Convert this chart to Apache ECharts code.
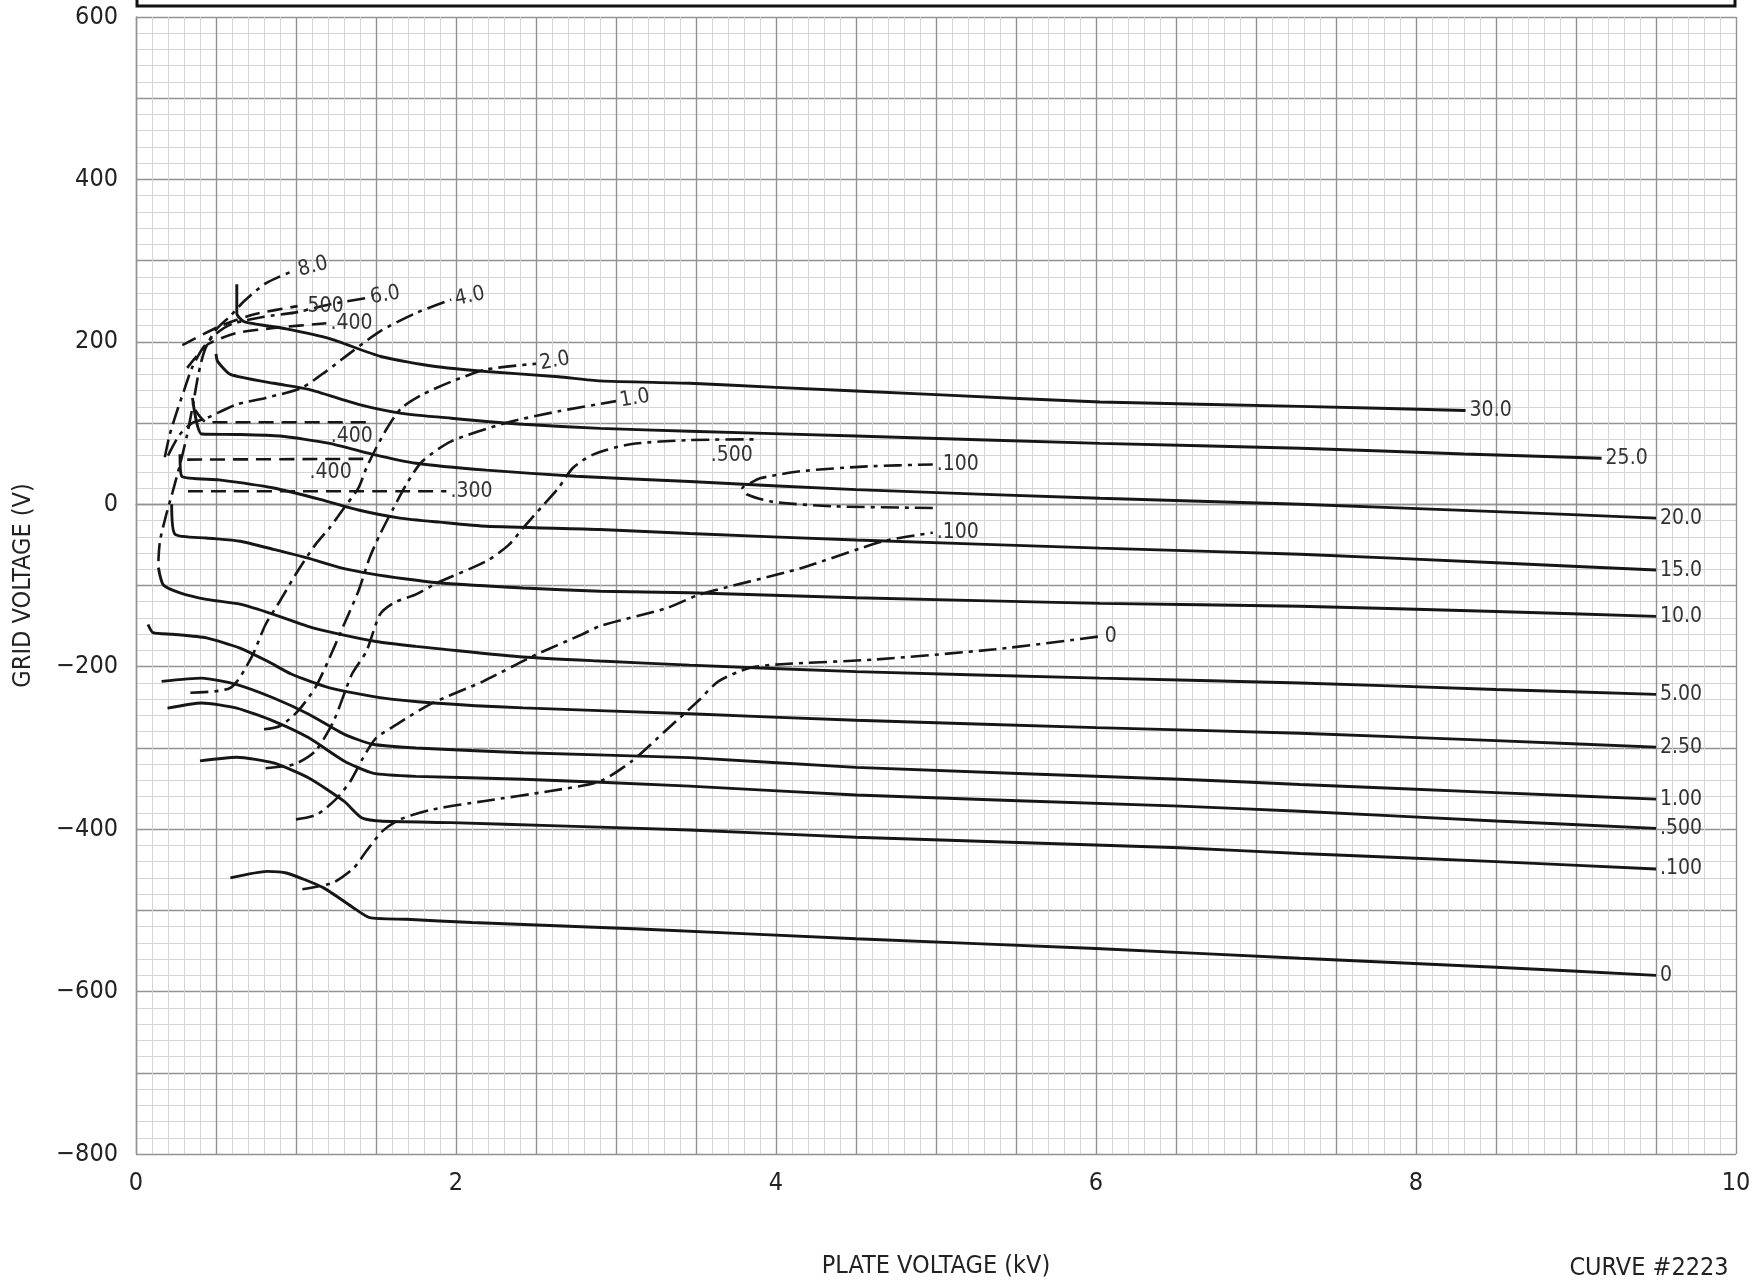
<!DOCTYPE html>
<html><head><meta charset="utf-8">
<script src="https://cdn.jsdelivr.net/npm/echarts@6/dist/echarts.min.js"></script>
<style>html,body{margin:0;padding:0;background:#fff}#c{width:1753px;height:1280px}</style>
</head><body><div id="c"></div>
<script>
const FONT = "'DejaVu Sans Condensed','Liberation Sans Narrow','DejaVu Sans',sans-serif";
const xTickLabels = [0, 2, 4, 6, 8, 10];
const yTickLabels = [600, 400, 200, 0, -200, -400, -600, -800];

// Plate current curves (solid) [kV, V]
const ip30 = [[0.63,271],[0.63,235],[0.675,225],[0.94,216],[1.21,204],[1.53,182],[1.86,170],[2.19,163.5],[2.64,157],[2.9,152],[3.46,149],[4.0,144],[5.0,135],[6.025,126],[7.275,120.6],[8.31,115.5]];
const ip25 = [[0.5,185],[0.51,176],[0.59,160],[0.86,149],[1.08,141.5],[1.39,123],[1.66,112],[1.97,106],[2.42,98.5],[2.9,93.5],[3.46,90],[4.5,84],[6.025,75],[7.275,69],[8.3,62],[9.16,56.6]];
const ip20 = [[0.353,131],[0.41,86.5],[0.63,86],[0.9,84],[1.21,75],[1.48,61.5],[1.75,50.5],[2.19,42],[2.75,34.5],[3.46,28],[4.5,18],[6.025,7.4],[7.275,0],[8.5,-9],[9.5,-17]];
const ip15 = [[0.275,61.5],[0.286,34.5],[0.52,30],[0.86,20],[1.15,6],[1.39,-7],[1.65,-17],[1.9,-22],[2.19,-27],[2.9,-31],[3.46,-36],[4.5,-44],[6.025,-54],[7.275,-61.5],[8.5,-72],[9.5,-81]];
const ip10 = [[0.223,0],[0.244,-37],[0.44,-41.5],[0.65,-45.5],[0.86,-55.5],[1.07,-66],[1.275,-78],[1.48,-86],[1.69,-92],[1.9,-97],[2.42,-103],[2.9,-107],[3.46,-109],[4.5,-115],[6.025,-122],[7.275,-125.6],[8.5,-132],[9.5,-138]];
const ip5 = [[0.14,-78],[0.17,-99],[0.275,-109],[0.44,-117],[0.65,-123],[0.86,-135.5],[1.07,-150],[1.25,-159],[1.5,-169],[1.75,-175],[1.9,-178],[2.42,-188],[2.9,-193],[3.46,-198],[4.5,-206],[6.025,-214],[7.275,-220],[8.5,-228],[9.5,-234]];
const ip25b = [[0.075,-148],[0.106,-158],[0.23,-160],[0.44,-164.5],[0.65,-177],[0.82,-193],[0.97,-209],[1.21,-226],[1.525,-238],[1.86,-244.6],[2.42,-250.7],[3.46,-258],[4.5,-266],[6.0,-275],[7.275,-282],[8.5,-291],[9.5,-299]];
const ip1 = [[0.16,-218],[0.41,-214],[0.63,-222],[0.86,-238.5],[1.08,-258.5],[1.3,-283],[1.48,-295.5],[1.75,-300],[2.42,-306],[3.46,-312],[4.5,-324],[6.525,-338.5],[7.275,-345],[8.5,-355],[9.5,-363]];
const ip05 = [[0.197,-251],[0.41,-244.6],[0.63,-251],[0.86,-267],[1.08,-287.6],[1.3,-316],[1.48,-331],[1.75,-335],[2.42,-338.5],[3.46,-347],[4.5,-358],[6.525,-371.7],[7.275,-378],[8.5,-390],[9.5,-399]];
const ip01 = [[0.4,-316],[0.63,-311.5],[0.86,-318.5],[1.08,-337],[1.3,-365.6],[1.41,-386],[1.525,-390],[1.97,-392],[2.64,-396],[3.46,-401],[4.5,-410],[6.525,-423],[7.275,-430],[8.5,-440],[9.5,-449]];
const ip0 = [[0.59,-460],[0.82,-452],[0.94,-454],[1.17,-472],[1.36,-497],[1.46,-509],[1.69,-511],[2.1,-515],[3.15,-523],[4.5,-535],[6.0,-547],[7.275,-559],[8.5,-570],[9.5,-580]];

// Grid current curves (dash-dot)
const ig8 = [[0.14,-70],[0.15,-45],[0.19,-12],[0.23,16],[0.275,49],[0.32,86],[0.36,127],[0.39,160],[0.43,190],[0.5,215],[0.59,232],[0.675,250],[0.81,272],[0.99,288]];
const ig6 = [[0.18,58],[0.21,85],[0.25,111],[0.3,140],[0.35,168],[0.42,193],[0.5,210],[0.6,222],[0.8,231],[0.99,236],[1.21,246],[1.44,254]];
const ig4 = [[0.2,60],[0.27,85],[0.35,100],[0.44,106],[0.63,123],[0.81,131],[1.03,143],[1.19,164],[1.35,188],[1.525,213],[1.75,235.5],[1.97,252]];
const ig2 = [[0.34,-232],[0.59,-226],[0.72,-189],[0.81,-148],[0.9,-119],[1.01,-82.5],[1.12,-50],[1.21,-29],[1.3,-4.5],[1.39,20],[1.44,44.7],[1.5,69],[1.57,94],[1.66,118.5],[1.79,135],[1.97,151],[2.19,166],[2.5,173]];
const ig1 = [[0.8,-277],[0.9,-273],[1.01,-255],[1.12,-226],[1.21,-189],[1.3,-148],[1.39,-107],[1.46,-66],[1.525,-37],[1.61,-4.5],[1.7,28],[1.79,53],[1.97,77.5],[2.31,100],[2.64,114.5],[3.0,127]];
const ig05 = [[0.81,-325],[0.99,-320],[1.12,-304],[1.235,-267],[1.35,-209],[1.44,-181],[1.525,-135.6],[1.61,-121.5],[1.75,-111],[1.88,-97],[2.19,-70],[2.33,-50],[2.42,-29],[2.53,-4.5],[2.64,20],[2.73,44.7],[2.86,61.5],[3.09,74],[3.46,79],[3.88,80]];
const ig01loop = [[4.98,-4.5],[4.36,-2.5],[3.98,3],[3.82,12],[3.79,20],[3.84,26],[3.9,32],[4.15,40.6],[4.57,46.7],[4.98,49]];
const ig01 = [[1.0,-388],[1.13,-382],[1.25,-363],[1.34,-341],[1.42,-312],[1.5,-288],[1.63,-271],[1.84,-246],[2.17,-218],[2.48,-187],[2.79,-160],[2.9,-150],[3.32,-127.6],[3.525,-111],[4.15,-79],[4.67,-45.5],[4.98,-35]];
const ig0 = [[1.04,-474],[1.23,-466],[1.36,-448],[1.44,-427],[1.54,-402.5],[1.65,-388],[1.86,-375.5],[2.17,-365.6],[2.59,-353],[2.9,-341],[3.1,-316],[3.32,-277],[3.525,-240],[3.64,-218],[3.835,-201.5],[4.03,-197],[4.625,-191],[5.37,-178.5],[6.03,-162.5]];

// Screen current curves (dashed)
const is500 = [[0.29,196],[0.52,219],[0.74,234],[1.01,244]];
const is400a = [[0.32,168],[0.45,197],[0.63,211],[0.86,217],[1.19,223]];
const is400b = [[0.37,116],[0.44,101],[1.48,101]];
const is400c = [[0.32,55],[1.46,56]];
const is300 = [[0.325,16],[1.94,16]];

const INK = '#161616';
function lbl(text, extra) {
  return Object.assign({show: true, formatter: text, fontFamily: FONT, fontSize: 21, color: '#333', distance: 4}, extra || {});
}
function solid(name, data, extra) {
  return {type: 'line', name, data, showSymbol: false, smooth: 0.2, silent: true,
    lineStyle: {color: INK, width: 2.9}, endLabel: lbl(name, extra)};
}
function dashdot(name, data, extra) {
  return {type: 'line', name, data, showSymbol: false, smooth: 0.25, silent: true,
    lineStyle: {color: INK, width: 2.6, type: [18, 6, 4, 6]}, endLabel: lbl(name, extra)};
}
function dashed(name, data, extra) {
  return {type: 'line', name, data, showSymbol: false, smooth: 0.2, silent: true,
    lineStyle: {color: INK, width: 2.6, type: [15, 8]}, endLabel: lbl(name, extra)};
}

const series = [
  solid('30.0', ip30), solid('25.0', ip25), solid('20.0', ip20), solid('15.0', ip15),
  solid('10.0', ip10), solid('5.00', ip5), solid('2.50', ip25b), solid('1.00', ip1),
  solid('.500', ip05), solid('.100', ip01), solid('0', ip0),
  dashdot('8.0', ig8, {rotate: 14}), dashdot('6.0', ig6, {rotate: 10}), dashdot('4.0', ig4, {rotate: 12}),
  dashdot('2.0', ig2, {rotate: 10}), dashdot('1.0', ig1, {rotate: 10}),
  dashdot('.500', ig05, {offset: [-50, 16]}),
  dashdot('.100', ig01loop), dashdot('.100', ig01), dashdot('0', ig0),
  dashed('.500', is500), dashed('.400', is400a),
  dashed('.400', is400b, {offset: [-46, 14]}), dashed('.400', is400c, {offset: [-64, 14]}),
  dashed('.300', is300)
];

const majorLine = {show: true, lineStyle: {color: '#929292', width: 1.4}};
const minorLine = {show: true, lineStyle: {color: '#d4d4d4', width: 1}};

const chart = echarts.init(document.getElementById('c'), null, {renderer: 'canvas'});
chart.setOption({
  animation: false,
  backgroundColor: '#fff',
  grid: {left: 136, right: 17, top: 17, bottom: 126, containLabel: false, outerBoundsMode: 'none'},
  xAxis: {
    type: 'value', min: 0, max: 10, interval: 0.5,
    axisLine: {show: true, lineStyle: {color: '#929292', width: 1.4}},
    axisTick: {show: false},
    splitLine: majorLine,
    minorTick: {show: false, splitNumber: 5},
    minorSplitLine: minorLine,
    axisLabel: {
      margin: 17, fontFamily: FONT, fontSize: 25, color: '#222',
      formatter: v => xTickLabels.some(t => Math.abs(t - v) < 1e-6) ? String(Math.round(v)) : ''
    },
    name: 'PLATE VOLTAGE (kV)', nameLocation: 'middle', nameGap: 100,
    nameTextStyle: {fontFamily: FONT, fontSize: 25, color: '#222'}
  },
  yAxis: {
    type: 'value', min: -800, max: 600, interval: 100,
    axisLine: {show: true, lineStyle: {color: '#929292', width: 1.4}},
    axisTick: {show: false},
    splitLine: majorLine,
    minorTick: {show: false, splitNumber: 5},
    minorSplitLine: minorLine,
    axisLabel: {
      margin: 18, fontFamily: FONT, fontSize: 25, color: '#222',
      formatter: v => yTickLabels.includes(Math.round(v)) ? (v < 0 ? '\u2212' + Math.abs(v) : String(v)) : ''
    },
    name: 'GRID VOLTAGE (V)', nameLocation: 'middle', nameRotate: 90, nameGap: 100,
    nameTextStyle: {fontFamily: FONT, fontSize: 25, color: '#222'}
  },
  graphic: [
    {type: 'rect', shape: {x: 137, y: -20, width: 1598, height: 26}, style: {fill: 'none', stroke: '#111', lineWidth: 3}},
    {type: 'text', x: 1649, y: 1268, style: {text: 'CURVE #2223', font: '25px ' + FONT, fill: '#222', textAlign: 'center', textVerticalAlign: 'middle'}}
  ],
  series
});
</script></body></html>
